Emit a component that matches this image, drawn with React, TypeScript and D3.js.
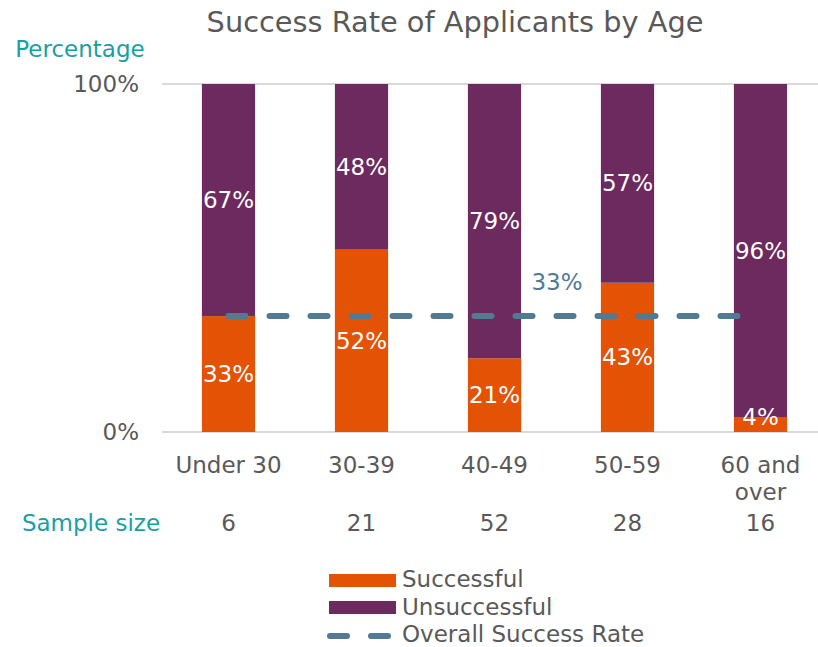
import React, { useEffect, useRef } from "react";
import * as d3 from "d3";

const categories = ["Under 30", "30-39", "40-49", "50-59", "60 and over"];
const categoryLines = [["Under 30"], ["30-39"], ["40-49"], ["50-59"], ["60 and", "over"]];
const successful = [33.3, 52.4, 21.2, 42.9, 4.3];
const unsuccessful = [66.7, 47.6, 78.8, 57.1, 95.7];
const successLabels = ["33%", "52%", "21%", "43%", "4%"];
const unsuccessLabels = ["67%", "48%", "79%", "57%", "96%"];
const sampleSizes = [6, 21, 52, 28, 16];
const overallRate = 33.3;
const overallLabel = "33%";
const yTicks = [0, 100];

const W = 818, H = 647;
const FONT = "'DejaVu Sans', Verdana, sans-serif";
const C_SUCC = "#E35205";
const C_UNS = "#6C2A5E";
const C_LINE = "#527A90";
const C_TEAL = "#1AA0A3";
const C_TEXT = "#595959";
const FS = 23;

export default function App() {
  const ref = useRef<SVGSVGElement | null>(null);
  useEffect(() => {
    const svg = d3.select(ref.current);
    svg.selectAll("*").remove();
    svg.style("font-family", FONT);

    const x = d3.scaleBand<string>().domain(categories).range([162, 827]).paddingInner(0.6).paddingOuter(0.3);
    const y = d3.scaleLinear().domain([0, 100]).range([432, 84]);
    const cx = (c: string) => (x(c) as number) + x.bandwidth() / 2;

    // title
    svg.append("text").attr("x", 455).attr("y", 22).attr("dy", "0.35em").attr("text-anchor", "middle")
      .attr("font-size", 28.8).attr("fill", C_TEXT).text("Success Rate of Applicants by Age");
    svg.append("text").attr("x", 80).attr("y", 49).attr("dy", "0.35em").attr("text-anchor", "middle")
      .attr("font-size", FS).attr("fill", C_TEAL).text("Percentage");

    // gridlines
    svg.append("g").selectAll("line").data(yTicks).join("line")
      .attr("x1", 162).attr("x2", 818).attr("y1", d => y(d)).attr("y2", d => y(d))
      .attr("stroke", "#D9D9D9").attr("stroke-width", 2);
    svg.append("g").selectAll("text").data(yTicks).join("text")
      .attr("x", 139).attr("y", d => y(d)).attr("dy", "0.35em").attr("text-anchor", "end")
      .attr("font-size", FS).attr("fill", C_TEXT).text(d => d + "%");

    // bars
    const g = svg.append("g");
    categories.forEach((c, i) => {
      const x0 = x(c) as number;
      g.append("rect").attr("x", x0).attr("width", x.bandwidth())
        .attr("y", y(successful[i])).attr("height", y(0) - y(successful[i])).attr("fill", C_SUCC);
      g.append("rect").attr("x", x0).attr("width", x.bandwidth())
        .attr("y", y(successful[i] + unsuccessful[i])).attr("height", y(successful[i]) - y(successful[i] + unsuccessful[i]))
        .attr("fill", C_UNS);
      const sy = Math.min((y(0) + y(successful[i])) / 2, y(0) - 15);
      g.append("text").attr("x", cx(c)).attr("y", sy).attr("dy", "0.35em").attr("text-anchor", "middle")
        .attr("font-size", FS).attr("fill", "#FFFFFF").text(successLabels[i]);
      const uy = (y(successful[i]) + y(successful[i] + unsuccessful[i])) / 2;
      g.append("text").attr("x", cx(c)).attr("y", uy).attr("dy", "0.35em").attr("text-anchor", "middle")
        .attr("font-size", FS).attr("fill", "#FFFFFF").text(unsuccessLabels[i]);
    });

    // overall line
    const line = d3.line<string>().x(c => cx(c)).y(() => y(overallRate));
    svg.append("path").attr("d", line(categories) as string).attr("fill", "none")
      .attr("stroke", C_LINE).attr("stroke-width", 6).attr("stroke-linecap", "round")
      .attr("stroke-dasharray", "17 24");
    svg.append("text").attr("x", 557).attr("y", 282).attr("dy", "0.35em").attr("text-anchor", "middle")
      .attr("font-size", FS).attr("fill", C_LINE).text(overallLabel);

    // category labels
    categories.forEach((c, i) => {
      categoryLines[i].forEach((l, j) => {
        svg.append("text").attr("x", cx(c)).attr("y", 465 + j * 27).attr("dy", "0.35em")
          .attr("text-anchor", "middle").attr("font-size", FS).attr("fill", C_TEXT).text(l);
      });
      svg.append("text").attr("x", cx(c)).attr("y", 523).attr("dy", "0.35em")
        .attr("text-anchor", "middle").attr("font-size", FS).attr("fill", C_TEXT).text(String(sampleSizes[i]));
    });
    svg.append("text").attr("x", 91).attr("y", 523).attr("dy", "0.35em").attr("text-anchor", "middle")
      .attr("font-size", FS).attr("fill", C_TEAL).text("Sample size");

    // legend
    const lg = svg.append("g");
    lg.append("rect").attr("x", 329).attr("y", 574).attr("width", 67).attr("height", 13).attr("fill", C_SUCC);
    lg.append("rect").attr("x", 329).attr("y", 601).attr("width", 67).attr("height", 13).attr("fill", C_UNS);
    lg.append("line").attr("x1", 330).attr("x2", 390).attr("y1", 636).attr("y2", 636)
      .attr("stroke", C_LINE).attr("stroke-width", 6).attr("stroke-linecap", "round").attr("stroke-dasharray", "17 24");
    const items = ["Successful", "Unsuccessful", "Overall Success Rate"];
    items.forEach((t, i) => {
      lg.append("text").attr("x", 402).attr("y", 579 + i * 27.5).attr("dy", "0.35em")
        .attr("font-size", FS).attr("fill", C_TEXT).text(t);
    });
  }, []);
  return <svg ref={ref} width={W} height={H} style={{ position: "absolute", left: 0, top: 0 }} />;
}
